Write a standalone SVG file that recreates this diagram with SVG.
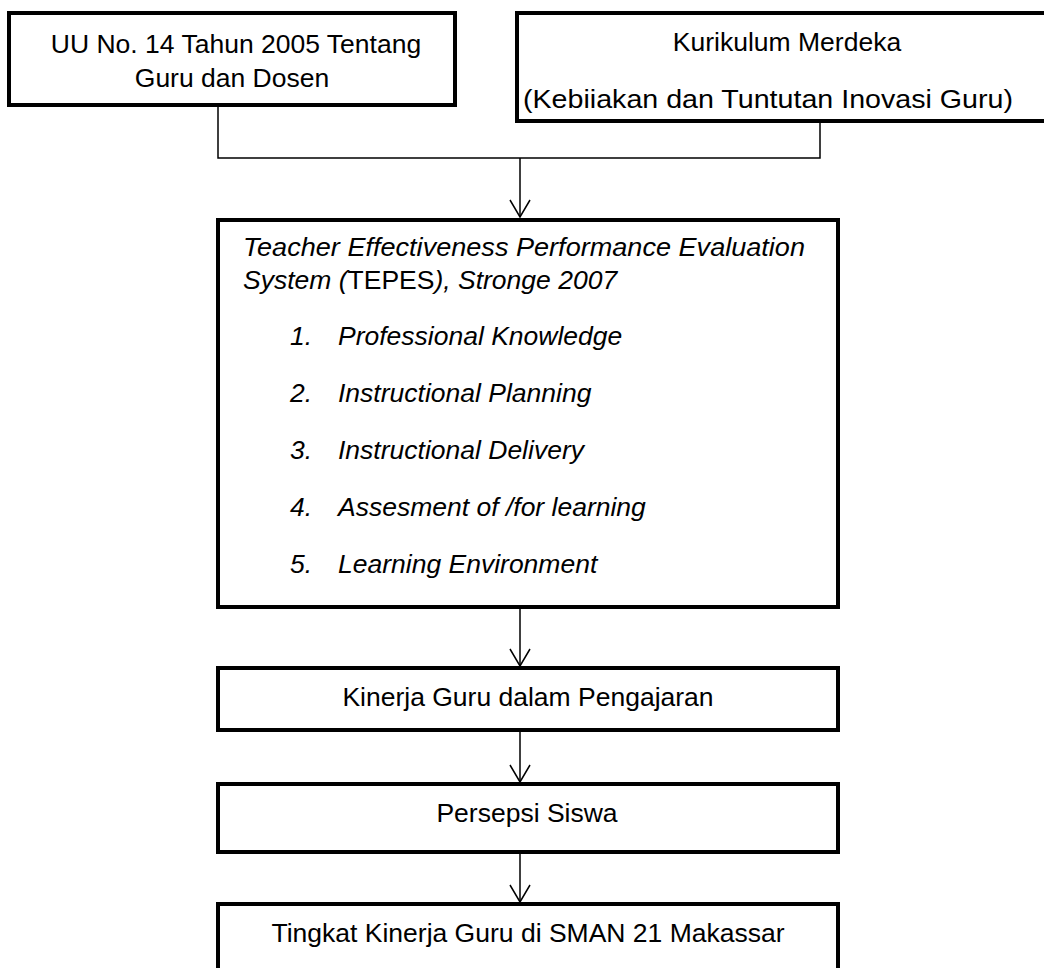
<svg xmlns="http://www.w3.org/2000/svg" width="1044" height="968" viewBox="0 0 1044 968">
<defs>
<style>
.box{fill:#fff;stroke:#000;stroke-width:4}
.t{font-family:"Liberation Sans",Arial,sans-serif;font-size:26.5px;fill:#000}
.c{text-anchor:middle}
.i{font-style:italic}
.n{font-style:normal}
.con{fill:none;stroke:#000;stroke-width:1.5}
</style>
<marker id="ah" markerWidth="22" markerHeight="22" viewBox="0 0 22 22" refX="20" refY="11" orient="auto" markerUnits="userSpaceOnUse">
<path d="M3,1 L20,11 L3,21" fill="none" stroke="#000" stroke-width="1.5"/>
</marker>
</defs>
<rect width="1044" height="968" fill="#fff"/>
<g id="connectors">
<path class="con" d="M218,105 V158 H820 V121"/>
<path class="con" d="M520,158 V217" marker-end="url(#ah)"/>
<path class="con" d="M520,607 V666" marker-end="url(#ah)"/>
<path class="con" d="M520,730 V782" marker-end="url(#ah)"/>
<path class="con" d="M520,852 V902" marker-end="url(#ah)"/>
</g>
<g id="node-uu">
<rect class="box" x="9" y="13" width="446" height="92"/>
<text class="t c" x="236" y="53">UU No. 14 Tahun 2005 Tentang</text>
<text class="t c" x="232" y="87">Guru dan Dosen</text>
</g>
<g id="node-kurikulum">
<rect class="box" x="517" y="13" width="540" height="108"/>
<text class="t c" x="787" y="51">Kurikulum Merdeka</text>
<text class="t c" x="768" y="108" textLength="490" lengthAdjust="spacingAndGlyphs">(Kebiiakan dan Tuntutan Inovasi Guru)</text>
</g>
<g id="node-tepes">
<rect class="box" x="218" y="220" width="620" height="387"/>
<text class="t i" x="243" y="256" textLength="562" lengthAdjust="spacingAndGlyphs">Teacher Effectiveness Performance Evaluation</text>
<text class="t i" x="243" y="289">System (<tspan class="n">TEPES</tspan>), Stronge 2007</text>
<text class="t i" x="290" y="345">1.</text><text class="t i" x="338" y="345">Professional Knowledge</text>
<text class="t i" x="290" y="402">2.</text><text class="t i" x="338" y="402">Instructional Planning</text>
<text class="t i" x="290" y="459">3.</text><text class="t i" x="338" y="459">Instructional Delivery</text>
<text class="t i" x="290" y="516">4.</text><text class="t i" x="338" y="516">Assesment of /for learning</text>
<text class="t i" x="290" y="573">5.</text><text class="t i" x="338" y="573">Learning Environment</text>
</g>
<g id="node-kinerja">
<rect class="box" x="218" y="668" width="620" height="62"/>
<text class="t c" x="528" y="706">Kinerja Guru dalam Pengajaran</text>
</g>
<g id="node-persepsi">
<rect class="box" x="218" y="784" width="620" height="68"/>
<text class="t c" x="527" y="822">Persepsi Siswa</text>
</g>
<g id="node-tingkat">
<rect class="box" x="218" y="904" width="620" height="80"/>
<text class="t c" x="528" y="942">Tingkat Kinerja Guru di SMAN 21 Makassar</text>
</g>
</svg>
